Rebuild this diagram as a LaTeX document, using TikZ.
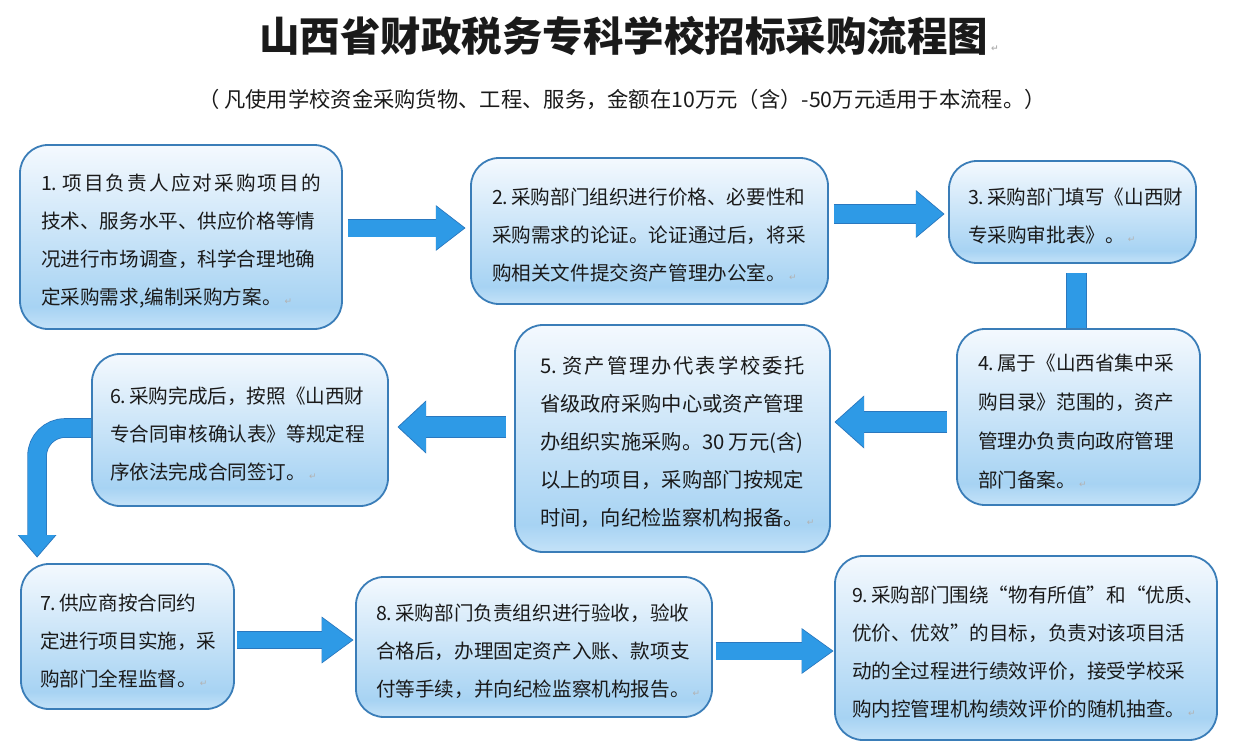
\documentclass[tikz,border=0pt]{standalone}
\usepackage{fontspec}
\setmainfont{Noto Sans CJK SC}
\newfontfamily\dejavu{DejaVu Sans}
\usetikzlibrary{arrows.meta,calc}
\definecolor{bxline}{HTML}{3A7DB8}
\definecolor{bxtop}{HTML}{F4F9FE}
\definecolor{bxmid}{HTML}{A7D3F3}
\definecolor{bxbot}{HTML}{C4E2F8}
\definecolor{arrfill}{HTML}{2E9AE6}
\definecolor{arrline}{HTML}{2A78BF}
\definecolor{txt}{HTML}{1A1A1A}
\pgfdeclareverticalshading{boxshade}{100bp}{color(0bp)=(bxbot); color(25bp)=(bxbot); color(31bp)=(bxmid); color(75bp)=(bxtop); color(100bp)=(bxtop)}
\newcommand\retmark{{\dejavu\fontsize{9}{9}\selectfont\color{gray!60}\kern3pt ↵}}
\newcommand\bodyfont{\fontsize{19.6}{38}\selectfont}
\newcommand\nsp{\kern3pt}
\newcommand\hf{\hfil}
\begin{document}
\begin{tikzpicture}[x=1pt,y=-1pt,
  box/.style={draw=bxline, line width=1.8pt, rounded corners=28pt, shade, shading=boxshade,
    align=left, inner ysep=0pt, font=\bodyfont, text=txt,
    execute at begin node={\rule{0pt}{25pt}}},
  barrow/.style n args={3}{draw=arrfill, line width=#1,
    -{Triangle[width=#2,length=#3,line width=0.8pt]},
    preaction={draw=arrline, line width=#1+1.6pt,
      -{Triangle[width=#2,length=#3,line width=0.8pt,scale=1.06]}, shorten >=-1.4pt}},
  bar/.style={draw=arrfill, line width=#1,
    preaction={draw=arrline, line width=#1+1.6pt}}
]
\fill[white] (0,0) rectangle (1240,755);
\useasboundingbox (0,0) rectangle (1240,755);

\node[text=txt] (title) at (629,36) {\bfseries\fontsize{40.5}{40.5}\selectfont 山西省财政税务专科学校招标采购流程图\retmark};
\node[text=txt] (sub) at (622,100) {\fontsize{21.3}{21.3}\selectfont （ 凡使用学校资金采购货物、工程、服务，金额在10万元（含）-50万元适用于本流程。）};

\node[box, minimum width=322pt, minimum height=184pt, text width=280pt, inner xsep=21pt] (b1) at (181,237)
 {\makebox[280pt][s]{1.\nsp\hf 项\hf 目\hf 负\hf 责\hf 人\hf 应\hf 对\hf 采\hf 购\hf 项\hf 目\hf 的}\\技术、服务水平、供应价格等情\\况进行市场调查，科学合理地确\\定采购需求,编制采购方案。\retmark};
\node[box, minimum width=357pt, minimum height=146pt, text width=315pt, inner xsep=21pt] (b2) at (649.5,231)
 {2.\nsp 采购部门组织进行价格、必要性和\\采购需求的论证。论证通过后，将采\\购相关文件提交资产管理办公室。\retmark};
\node[box, minimum width=247pt, minimum height=102pt, text width=209pt, inner xsep=19pt] (b3) at (1072.5,212)
 {3.\nsp 采购部门填写《山西财\\专采购审批表》。\retmark};
\node[box, minimum width=243pt, minimum height=176pt, text width=201pt, inner xsep=21pt, font=\fontsize{19.6}{39}\selectfont] (b4) at (1078.5,417)
 {4.\nsp 属于《山西省集中采\\购目录》范围的，资产\\管理办负责向政府管理\\部门备案。\retmark};
\node[box, minimum width=315pt, minimum height=227pt, text width=265pt, inner xsep=25pt, font=\fontsize{20.3}{38}\selectfont] (b5) at (672.5,438.5)
 {\makebox[265pt][s]{5.\hf\hf\hf 资\hf 产\hf 管\hf 理\hf 办\hf 代\hf 表\hf 学\hf 校\hf 委\hf 托}\\省级政府采购中心或资产管理\\办组织实施采购。30\kern4pt 万元(含)\\以上的项目，采购部门按规定\\时间，向纪检监察机构报备。\retmark};
\node[box, minimum width=296pt, minimum height=152pt, text width=260pt, inner xsep=18pt] (b6) at (240,430)
 {6.\nsp 采购完成后，按照《山西财\\专合同审核确认表》等规定程\\序依法完成合同签订。\retmark};
\node[box, minimum width=213pt, minimum height=145pt, text width=175pt, inner xsep=19pt] (b7) at (127.5,636.5)
 {7.\nsp 供应商按合同约\\定进行项目实施，采\\购部门全程监督。\retmark};
\node[box, minimum width=356pt, minimum height=140pt, text width=316pt, inner xsep=20pt] (b8) at (534,647)
 {8.\nsp 采购部门负责组织进行验收，验收\\合格后，办理固定资产入账、款项支\\付等手续，并向纪检监察机构报告。\retmark};
\node[box, minimum width=382pt, minimum height=184pt, text width=348pt, inner xsep=17pt] (b9) at (1026,648)
 {9.\nsp 采购部门围绕“物有所值”和“优质、\\优价、优效”的目标，负责对该项目活\\动的全过程进行绩效评价，接受学校采\\购内控管理机构绩效评价的随机抽查。\retmark};

% connectors
\draw[barrow={17pt}{43pt}{28pt}] ($(b1.east)+(5,-9)$) -- ($(b2.west)+(-6,-3)$);
\draw[barrow={18pt}{45pt}{27pt}] ($(b2.east)+(5,-17)$) -- ($(b3.west)+(-5,2)$);
\coordinate (bartop) at ($(b3.south)+(4,9)$);
\draw[bar=19pt] (bartop) -- (bartop |- b4.north);
\draw[barrow={20pt}{50pt}{28pt}] ($(b4.west)+(-9,5)$) -- ($(b5.east)+(5,-16.5)$);
\draw[barrow={20pt}{50pt}{27pt}] ($(b5.west)+(-8,-11.5)$) -- ($(b6.east)+(10,-3)$);
\draw[barrow={18pt}{36pt}{21pt}, rounded corners=28pt] ($(b6.west)+(0,-2)$) -| ($(b7.north west)+(17,-7)$);
\draw[barrow={16pt}{44pt}{30pt}] ($(b7.east)+(2,3.5)$) -- ($(b8.west)+(-3,-7)$);
\draw[barrow={17pt}{43pt}{30pt}] ($(b8.east)+(3,4)$) -- ($(b9.west)+(-2,3)$);
\end{tikzpicture}
\end{document}
